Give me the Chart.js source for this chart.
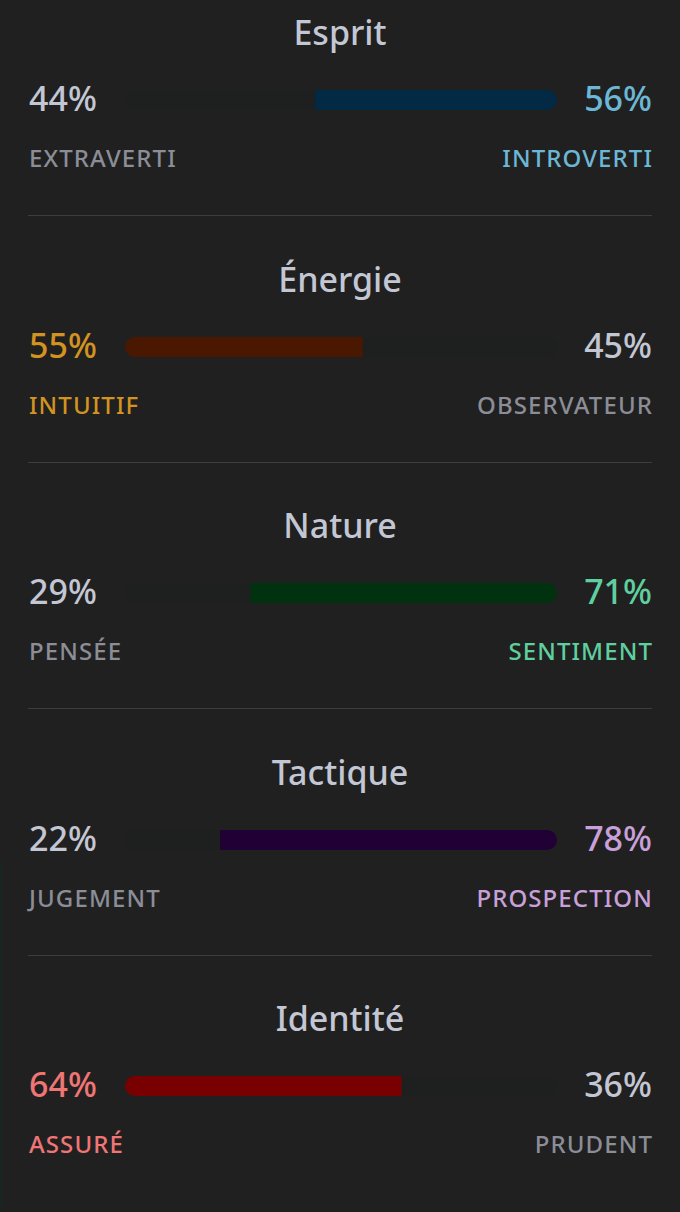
<!DOCTYPE html>
<html lang="fr">
<head>
<meta charset="utf-8">
<script src="https://cdn.jsdelivr.net/npm/chart.js@4.4.1/dist/chart.umd.min.js"></script>
<style>
  html, body { margin: 0; padding: 0; background: #202020; }
  body { width: 680px; height: 1212px; position: relative; overflow: hidden; font-family: "Noto Sans", "Open Sans", sans-serif; }
  .edge { position: absolute; left: 0; top: 860px; width: 1px; height: 352px; background: #0f2b1d; }
  .section { position: absolute; left: 0; width: 680px; height: 247px; }
  .title { position: absolute; left: 0; width: 680px; text-align: center; font-size: 34px; font-weight: 500; line-height: 46px; top: 9px; color: #c3c7d4; white-space: nowrap; }
  .pct { position: absolute; font-size: 34px; font-weight: 500; line-height: 46px; top: 75px; white-space: nowrap; }
  .pct.l { left: 29px; }
  .pct.r { right: 28px; text-align: right; }
  .lab { position: absolute; font-size: 24px; font-weight: 500; line-height: 33px; top: 141px; letter-spacing: 1.1px; white-space: nowrap; }
  .lab.l { left: 29px; }
  .lab.r { right: 27px; text-align: right; }
  .bar { position: absolute; left: 125px; top: 90px; width: 432px; height: 20px; }
  .rule { position: absolute; left: 28px; width: 624px; top: 215px; height: 1px; background: #3d3d3d; }
</style>
</head>
<body>
<div class="edge"></div>
<div id="root"></div>
<script>
// ---- data ----
const traits = ['Esprit', 'Énergie', 'Nature', 'Tactique', 'Identité'];
const leftLabels = ['EXTRAVERTI', 'INTUITIF', 'PENSÉE', 'JUGEMENT', 'ASSURÉ'];
const rightLabels = ['INTROVERTI', 'OBSERVATEUR', 'SENTIMENT', 'PROSPECTION', 'PRUDENT'];
const leftValues = [44, 55, 29, 22, 64];
const rightValues = [56, 45, 71, 78, 36];
const dominantSide = ['right', 'left', 'right', 'right', 'left'];

// ---- styles ----
const accentText = ['#6cb7d5', '#d29320', '#5fcf9f', '#c9a0d9', '#f07575'];
const barFill = ['#022a45', '#4a1800', '#00320f', '#210036', '#780000'];
const neutralPct = '#c3c7d4';
const neutralLab = '#8b8d97';
const trackColor = '#1e1f1f';
const STEP = 246.6;

const root = document.getElementById('root');
traits.forEach((t, i) => {
  const sec = document.createElement('div');
  sec.className = 'section';
  sec.style.top = (i * STEP) + 'px';
  const leftDom = dominantSide[i] === 'left';
  const lc = leftDom ? accentText[i] : neutralPct;
  const rc = leftDom ? neutralPct : accentText[i];
  const llc = leftDom ? accentText[i] : neutralLab;
  const rlc = leftDom ? neutralLab : accentText[i];
  sec.innerHTML =
    '<div class="title">' + t + '</div>' +
    '<div class="pct l" style="color:' + lc + '">' + leftValues[i] + '%</div>' +
    '<div class="pct r" style="color:' + rc + '">' + rightValues[i] + '%</div>' +
    '<div class="lab l" style="color:' + llc + '">' + leftLabels[i] + '</div>' +
    '<div class="lab r" style="color:' + rlc + '">' + rightLabels[i] + '</div>' +
    '<canvas class="bar" width="432" height="20"></canvas>' +
    (i < traits.length - 1 ? '<div class="rule"></div>' : '');
  root.appendChild(sec);
  const cv = sec.querySelector('canvas');
  new Chart(cv, {
    type: 'bar',
    data: {
      labels: [t],
      datasets: [
        {
          data: [leftValues[i]],
          backgroundColor: leftDom ? barFill[i] : trackColor,
          borderRadius: { topLeft: 10, bottomLeft: 10, topRight: 0, bottomRight: 0 },
          borderSkipped: false,
          categoryPercentage: 1,
          barPercentage: 1,
          inflateAmount: 0
        },
        {
          data: [rightValues[i]],
          backgroundColor: leftDom ? trackColor : barFill[i],
          borderRadius: { topLeft: 0, bottomLeft: 0, topRight: 10, bottomRight: 10 },
          borderSkipped: false,
          categoryPercentage: 1,
          barPercentage: 1,
          inflateAmount: 0
        }
      ]
    },
    options: {
      indexAxis: 'y',
      responsive: false,
      animation: false,
      layout: { padding: 0 },
      scales: {
        x: { stacked: true, min: 0, max: 100, display: false },
        y: { stacked: true, display: false }
      },
      plugins: { legend: { display: false }, tooltip: { enabled: false } }
    }
  });
});
</script>
</body>
</html>
